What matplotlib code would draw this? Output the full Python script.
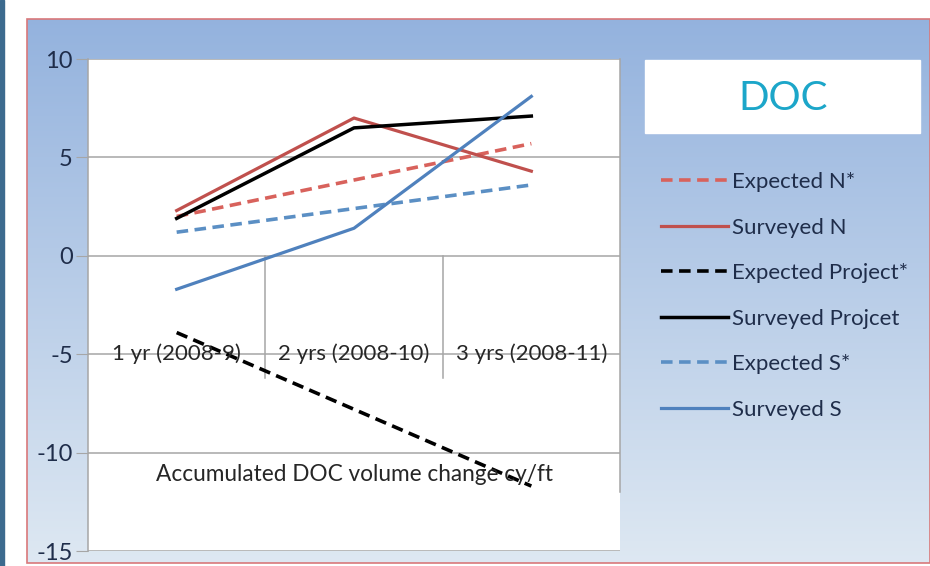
import matplotlib
matplotlib.use('Agg')
import matplotlib.pyplot as plt
import numpy as np
from matplotlib.patches import Rectangle

plt.rcParams['font.family'] = ['Lato', 'DejaVu Sans']

# data
categories = ['1 yr (2008-9)', '2 yrs (2008-10)', '3 yrs (2008-11)']
expected_n = [2.0, 3.85, 5.7]
surveyed_n = [2.3, 7.0, 4.3]
expected_p = [-3.9, -7.8, -11.7]
surveyed_p = [1.9, 6.5, 7.1]
expected_s = [1.2, 2.4, 3.6]
surveyed_s = [-1.7, 1.4, 8.1]
yticks = [-15, -10, -5, 0, 5, 10]

W, H = 930, 566
fig = plt.figure(figsize=(W / 100, H / 100), dpi=100)

# background: gradient panel with red frame
bg = fig.add_axes([0, 0, 1, 1])
bg.set_xlim(0, W)
bg.set_ylim(H, 0)
bg.axis('off')
grad = np.linspace(0, 1, 256).reshape(-1, 1)
top = np.array([0.58, 0.70, 0.87])
bot = np.array([0.87, 0.91, 0.95])
img = top + (bot - top) * grad[:, :, None]
bg.imshow(img, extent=(27, W, 563, 19), aspect='auto', zorder=0)
bg.add_patch(Rectangle((27, 19), W - 27, 544, fill=False, ec='#d9787a', lw=1.2, zorder=1))
bg.add_patch(Rectangle((0, 0), 4, H, color='#3c6a8e', zorder=1))
# title box
bg.add_patch(Rectangle((645, 60), 275, 73, color='white', zorder=1))
bg.text(783, 98, 'DOC', color='#1ca6c9', fontsize=29, ha='center', va='center', zorder=2)

ax = fig.add_axes([88 / W, (H - 551) / H, 532 / W, 492 / H])
ax.set_facecolor('white')
x = np.arange(len(categories))

red = '#c0504d'
blue = '#4f81bd'
dash = (3.2, 1.8)
ax.plot(x, expected_n, color='#d8625c', lw=2.6, dashes=dash, label='Expected N*')
ax.plot(x, surveyed_n, color=red, lw=2.3, label='Surveyed N')
ax.plot(x, expected_p, color='black', lw=2.6, dashes=dash, label='Expected Project*')
ax.plot(x, surveyed_p, color='black', lw=2.5, label='Surveyed Projcet')
ax.plot(x, expected_s, color='#5b8fc4', lw=2.6, dashes=dash, label='Expected S*')
ax.plot(x, surveyed_s, color=blue, lw=2.3, label='Surveyed S')

ax.set_xlim(-0.5, 2.5)
ax.set_ylim(-15, 10)
for y in yticks:
    ax.axhline(y, color='#a6a6a6', lw=1.1, zorder=0)
# category separators hanging from the zero line
for xs in [0.5, 1.5]:
    ax.plot([xs, xs], [0, -6.2], color='#a6a6a6', lw=1.1, zorder=0)
ax.plot([2.5, 2.5], [10, -12.0], color='#a6a6a6', lw=1.1, zorder=0, clip_on=False)
ax.plot([-0.5, -0.5], [10, -15], color='#a6a6a6', lw=1.1, zorder=0, clip_on=False)

for i, c in enumerate(categories):
    ax.text(i, -5.0, c, ha='center', va='center', fontsize=16, color='#262626')
ax.text(1, -11.1, 'Accumulated DOC volume change cy/ft', ha='center', va='center',
        fontsize=16.3, color='#262626')

for s in ax.spines.values():
    s.set_visible(False)
ax.set_xticks([])
ax.set_yticks(yticks)
ax.set_yticklabels([str(v) for v in yticks])
ax.tick_params(axis='y', length=9, color='#a6a6a6', labelsize=17,
               labelcolor='#1f2d4a', pad=2)

handles, labels = ax.get_legend_handles_labels()
leg = fig.legend(handles, labels, loc='upper left', bbox_to_anchor=(641 / W, 1 - 152 / H),
                 frameon=False, fontsize=16, handlelength=3.0, handletextpad=0.2,
                 labelspacing=1.15)
for t in leg.get_texts():
    t.set_color('#1f2d4a')

fig.savefig('out.png', dpi=100)
